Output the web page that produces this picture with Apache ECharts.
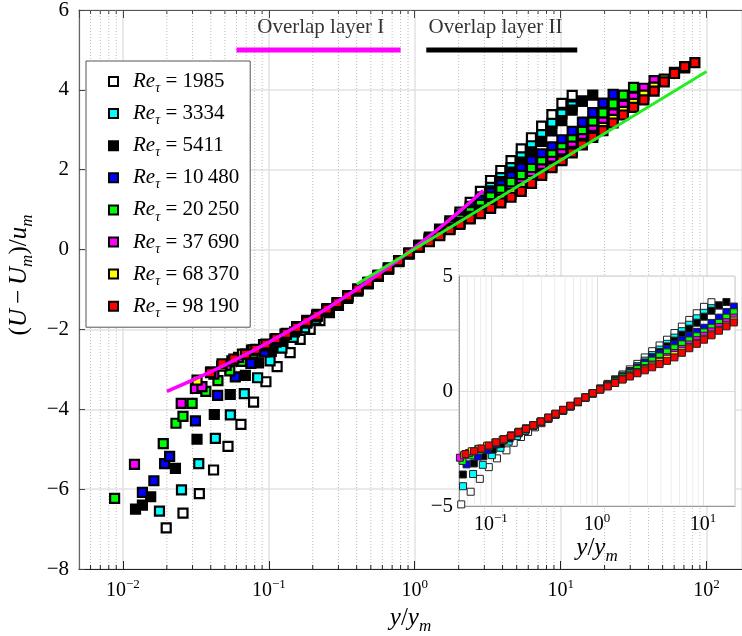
<!DOCTYPE html>
<html>
<head>
<meta charset="utf-8">
<title>Mean velocity defect</title>
<script src="https://cdn.jsdelivr.net/npm/echarts@6/dist/echarts.min.js"></script>
<style>html,body{margin:0;padding:0;background:#fff;}</style>
</head>
<body>
<div id="main" style="width:742px;height:636px;"></div>
<script type="text/javascript">
var FONT = 'Liberation Serif';

// legend labels (Re_tau) and marker colours
var names = ['1985', '3334', '5411', '10\u2009480', '20\u2009250', '37\u2009690', '68\u2009370', '98\u2009190'];
var colors = ['#ffffff', '#00ffff', '#000000', '#0000ff', '#00ff00', '#ff00ff', '#ffff00', '#ff0000'];

// [y/y_m, (U-U_m)/u_m]
var re1985 = [[0.0198,-6.97],[0.0258,-6.60],[0.0334,-6.11],[0.0418,-5.52],[0.0525,-4.93],[0.0644,-4.38],[0.0786,-3.82],[0.0955,-3.31],[0.114,-2.93],[0.140,-2.58],[0.164,-2.25],[0.192,-2.00],[0.224,-1.78],[0.260,-1.58],[0.300,-1.40],[0.347,-1.22],[0.407,-1.04],[0.479,-0.86],[0.562,-0.67],[0.661,-0.48],[0.776,-0.29],[0.912,-0.09],[1.07,0.11],[1.26,0.31],[1.48,0.51],[1.74,0.72],[2.04,0.94],[2.40,1.18],[2.82,1.46],[3.31,1.73],[3.89,1.98],[4.57,2.23],[5.37,2.52],[6.31,2.80],[7.41,3.09],[8.71,3.38],[10.2,3.66],[12.0,3.86]];
var re3334 = [[0.0178,-6.55],[0.0252,-6.02],[0.0331,-5.36],[0.0430,-4.73],[0.0545,-4.14],[0.0679,-3.61],[0.0838,-3.21],[0.102,-2.79],[0.123,-2.47],[0.147,-2.20],[0.176,-1.96],[0.210,-1.74],[0.251,-1.53],[0.295,-1.36],[0.347,-1.19],[0.407,-1.02],[0.479,-0.85],[0.562,-0.67],[0.661,-0.49],[0.776,-0.30],[0.912,-0.10],[1.07,0.10],[1.26,0.29],[1.48,0.48],[1.74,0.67],[2.04,0.87],[2.40,1.08],[2.82,1.32],[3.31,1.56],[3.89,1.80],[4.57,2.05],[5.37,2.32],[6.31,2.60],[7.41,2.88],[8.71,3.16],[10.2,3.40],[12.0,3.60],[14.1,3.72]];
var re5411 = [[0.0122,-6.50],[0.0136,-6.40],[0.0155,-6.19],[0.0229,-5.48],[0.0322,-4.75],[0.0423,-4.13],[0.0544,-3.63],[0.0690,-3.15],[0.0850,-2.84],[0.104,-2.55],[0.125,-2.30],[0.150,-2.06],[0.182,-1.84],[0.214,-1.66],[0.251,-1.50],[0.295,-1.34],[0.347,-1.18],[0.407,-1.01],[0.479,-0.84],[0.562,-0.66],[0.661,-0.48],[0.776,-0.29],[0.912,-0.10],[1.07,0.09],[1.26,0.27],[1.48,0.45],[1.74,0.63],[2.04,0.82],[2.40,1.02],[2.82,1.24],[3.31,1.47],[3.89,1.70],[4.57,1.94],[5.37,2.19],[6.31,2.45],[7.41,2.71],[8.71,2.97],[10.2,3.23],[12.0,3.49],[14.1,3.72],[16.6,3.87]];
var re10480 = [[0.0136,-6.08],[0.0163,-5.79],[0.0193,-5.36],[0.0209,-5.18],[0.0314,-4.29],[0.0446,-3.65],[0.0589,-3.19],[0.0753,-2.85],[0.0930,-2.56],[0.112,-2.32],[0.132,-2.11],[0.155,-1.93],[0.182,-1.77],[0.214,-1.62],[0.251,-1.48],[0.295,-1.33],[0.347,-1.17],[0.407,-1.00],[0.479,-0.84],[0.562,-0.66],[0.661,-0.48],[0.776,-0.29],[0.912,-0.10],[1.07,0.08],[1.26,0.26],[1.48,0.44],[1.74,0.62],[2.04,0.81],[2.40,1.01],[2.82,1.21],[3.31,1.42],[3.89,1.62],[4.57,1.83],[5.37,2.03],[6.31,2.22],[7.41,2.40],[8.71,2.57],[10.2,2.75],[12.0,2.96],[14.1,3.19],[16.6,3.43],[19.5,3.67],[22.9,3.89]];
var re20250 = [[0.00877,-6.23],[0.0189,-4.86],[0.0231,-4.35],[0.0258,-4.18],[0.0298,-3.85],[0.0370,-3.55],[0.0448,-3.28],[0.0540,-3.04],[0.0650,-2.80],[0.0780,-2.59],[0.0955,-2.41],[0.112,-2.26],[0.132,-2.12],[0.155,-1.97],[0.182,-1.82],[0.214,-1.67],[0.251,-1.51],[0.295,-1.35],[0.347,-1.18],[0.407,-1.01],[0.479,-0.84],[0.562,-0.66],[0.661,-0.48],[0.776,-0.29],[0.912,-0.10],[1.07,0.08],[1.26,0.25],[1.48,0.42],[1.74,0.59],[2.04,0.76],[2.40,0.95],[2.82,1.13],[3.31,1.32],[3.89,1.50],[4.57,1.68],[5.37,1.86],[6.31,2.03],[7.41,2.20],[8.71,2.38],[10.2,2.55],[12.0,2.75],[14.1,2.96],[16.6,3.19],[19.5,3.42],[22.9,3.65],[26.9,3.87],[31.6,4.06]];
var re37690 = [[0.0120,-5.38],[0.0251,-3.85],[0.0314,-3.48],[0.0348,-3.43],[0.0420,-3.12],[0.0510,-2.90],[0.0620,-2.70],[0.0760,-2.52],[0.0930,-2.39],[0.112,-2.25],[0.132,-2.11],[0.155,-1.96],[0.182,-1.81],[0.214,-1.66],[0.251,-1.50],[0.295,-1.34],[0.347,-1.17],[0.407,-1.00],[0.479,-0.83],[0.562,-0.65],[0.661,-0.47],[0.776,-0.29],[0.912,-0.10],[1.07,0.07],[1.26,0.22],[1.48,0.37],[1.74,0.53],[2.04,0.68],[2.40,0.83],[2.82,0.99],[3.31,1.15],[3.89,1.31],[4.57,1.47],[5.37,1.65],[6.31,1.83],[7.41,2.02],[8.71,2.21],[10.2,2.40],[12.0,2.59],[14.1,2.78],[16.6,2.99],[19.5,3.19],[22.9,3.40],[26.9,3.61],[31.6,3.82],[37.2,4.04],[43.7,4.23]];
var re68370 = [[0.0322,-3.27],[0.0400,-3.06],[0.0475,-2.92],[0.0558,-2.79],[0.0660,-2.62],[0.0780,-2.51],[0.0920,-2.38],[0.110,-2.24],[0.129,-2.12],[0.155,-1.95],[0.182,-1.80],[0.214,-1.65],[0.251,-1.49],[0.295,-1.33],[0.347,-1.16],[0.407,-0.99],[0.479,-0.82],[0.562,-0.65],[0.661,-0.47],[0.776,-0.28],[0.912,-0.10],[1.07,0.07],[1.26,0.21],[1.48,0.36],[1.74,0.51],[2.04,0.66],[2.40,0.80],[2.82,0.95],[3.31,1.10],[3.89,1.25],[4.57,1.40],[5.37,1.56],[6.31,1.73],[7.41,1.91],[8.71,2.09],[10.2,2.27],[12.0,2.46],[14.1,2.66],[16.6,2.86],[19.5,3.06],[22.9,3.26],[26.9,3.46],[31.6,3.66],[37.2,3.87],[43.7,4.07],[51.3,4.27],[60.3,4.44],[70.8,4.55]];
var re98190 = [[0.0398,-3.08],[0.0478,-2.86],[0.0575,-2.74],[0.0692,-2.62],[0.0813,-2.50],[0.0955,-2.37],[0.112,-2.23],[0.132,-2.10],[0.155,-1.95],[0.182,-1.80],[0.214,-1.65],[0.251,-1.49],[0.295,-1.33],[0.347,-1.16],[0.407,-0.99],[0.479,-0.82],[0.562,-0.64],[0.661,-0.46],[0.776,-0.28],[0.912,-0.09],[1.07,0.06],[1.26,0.20],[1.48,0.35],[1.74,0.50],[2.04,0.63],[2.40,0.77],[2.82,0.90],[3.31,1.03],[3.89,1.17],[4.57,1.31],[5.37,1.46],[6.31,1.66],[7.41,1.86],[8.71,2.05],[10.2,2.23],[12.0,2.42],[14.1,2.62],[16.6,2.81],[19.5,2.98],[22.9,3.17],[26.9,3.37],[31.6,3.56],[37.2,3.75],[43.7,3.97],[51.3,4.20],[60.3,4.41],[70.8,4.58],[83.2,4.68]];
var sets = [re1985, re3334, re5411, re10480, re20250, re37690, re68370, re98190];

// fitted curves and overlap-range bars
var fitLayerI = [[0.02,-3.55],[0.03,-3.27],[0.05,-2.89],[0.1,-2.32],[0.2,-1.69],[0.3,-1.29],[0.5,-0.75],[1,0.05],[2,0.94],[2.95,1.48]];
var fitLayerII = [[0.4,-0.87],[100,4.46]];
var barLayerI = [[0.06,5],[0.8,5]];
var barLayerII = [[1.2,5],[13,5]];
var labelLayerI = [[0.227,5.55]];
var labelLayerII = [[3.58,5.55]];

// minor log ticks 2..9 x decade
var decades = [0.001, 0.01, 0.1, 1, 10, 100];
var mults = [2, 3, 4, 5, 6, 7, 8, 9];

var myChart = echarts.init(document.getElementById('main'));

function minorTicks(lo, hi) {
    var out = [];
    decades.forEach(function (d) {
        mults.forEach(function (m) {
            var v = d * m;
            if (v > lo * 1.0001 && v < hi * 0.9999) out.push([v, 0]);
        });
    });
    return out;
}

function powLabel(v) {
    var l = Math.log10(v), e = Math.round(l);
    if (Math.abs(l - e) > 1e-6) return '';
    return '{b|10}{s|' + (e < 0 ? '\u2212' + (-e) : '' + e) + '}';
}
function numLabel(v) {
    return v < 0 ? '\u2212' + (-v) : '' + v;
}
var tickRich = {
    b: {fontFamily: FONT, fontSize: 20, color: '#000', lineHeight: 26},
    s: {fontFamily: FONT, fontSize: 13, color: '#000', lineHeight: 13, verticalAlign: 'top'}
};
var nameRich = {
    n: {fontFamily: FONT, fontSize: 25, color: '#000', lineHeight: 34},
    i: {fontFamily: FONT, fontSize: 25, fontStyle: 'italic', color: '#000', lineHeight: 34},
    s: {fontFamily: FONT, fontSize: 17, fontStyle: 'italic', color: '#000', lineHeight: 17, verticalAlign: 'bottom'}
};

function minorRender(yLo, yHi, dotted, ticks) {
    return function (params, api) {
        var x = api.value(0);
        var a = api.coord([x, yHi]), b = api.coord([x, yLo]);
        var kids = [{
            type: 'line',
            shape: {x1: a[0], y1: a[1], x2: b[0], y2: b[1]},
            style: dotted ? {stroke: '#bdbdbd', lineWidth: 1, lineDash: [1, 2]} : {stroke: '#ececec', lineWidth: 1}
        }];
        if (ticks) {
            kids.push({type: 'line', shape: {x1: b[0], y1: b[1], x2: b[0], y2: b[1] - 4}, style: {stroke: '#222', lineWidth: 1}});
            kids.push({type: 'line', shape: {x1: a[0], y1: a[1], x2: a[0], y2: a[1] + 4}, style: {stroke: '#444', lineWidth: 1}});
        }
        return {type: 'group', children: kids};
    };
}

var option = {
    animation: false,
    grid: [
        {left: 79, top: 10, right: 0, bottom: 67, outerBoundsMode: 'none', containLabel: false},
        {left: 459, top: 276, width: 276, height: 230, outerBoundsMode: 'none', containLabel: false,
         show: true, backgroundColor: '#fff', borderColor: '#c8c8c8', borderWidth: 1, z: 3}
    ],
    xAxis: [{
        type: 'log', gridIndex: 0, min: 0.005, max: 175,
        axisLine: {onZero: false, lineStyle: {color: '#222', width: 1.2}},
        axisTick: {inside: true, length: 8, lineStyle: {color: '#222'}},
        axisLabel: {formatter: powLabel, rich: tickRich, margin: 9, showMinLabel: false, showMaxLabel: false},
        splitLine: {show: true, lineStyle: {color: '#e2e2e2', width: 1.5}},
        name: '{i|y}{n|/}{i|y}{s|m}', nameLocation: 'middle', nameGap: 31,
        nameTextStyle: {rich: nameRich}
    }, {
        type: 'log', gridIndex: 0, min: 0.005, max: 175, position: 'top',
        axisLine: {onZero: false, lineStyle: {color: '#555', width: 1}},
        axisTick: {inside: true, length: 8, lineStyle: {color: '#444'}},
        axisLabel: {show: false}, splitLine: {show: false}
    }, {
        type: 'log', gridIndex: 1, min: 0.05, max: 20, z: 4,
        axisLine: {onZero: false, lineStyle: {color: '#999', width: 1}},
        axisTick: {show: false},
        axisLabel: {formatter: powLabel, rich: tickRich, margin: 6, showMinLabel: false, showMaxLabel: false},
        splitLine: {show: true, lineStyle: {color: '#dedede', width: 1}},
        name: '{i|y}{n|/}{i|y}{s|m}', nameLocation: 'middle', nameGap: 25,
        nameTextStyle: {rich: nameRich}
    }],
    yAxis: [{
        type: 'value', gridIndex: 0, min: -8, max: 6, interval: 2,
        axisLine: {show: true, onZero: false, lineStyle: {color: '#666', width: 1.2}},
        axisTick: {show: true, inside: true, length: 6, lineStyle: {color: '#444'}},
        axisLabel: {formatter: numLabel, fontFamily: FONT, fontSize: 21, color: '#000', margin: 10},
        splitLine: {show: true, lineStyle: {color: '#e2e2e2', width: 1.5}}
    }, {
        type: 'value', gridIndex: 1, min: -5, max: 5, interval: 5, z: 4,
        axisLine: {show: true, onZero: false, lineStyle: {color: '#999', width: 1}},
        axisTick: {show: false},
        axisLabel: {formatter: numLabel, fontFamily: FONT, fontSize: 21, color: '#000', margin: 6},
        splitLine: {show: true, lineStyle: {color: '#dedede', width: 1}}
    }],
    legend: {
        data: names, orient: 'vertical', left: 86, top: 61,
        padding: [10, 11, 7, 22], itemGap: 7.6, itemWidth: 9, itemHeight: 9,
        backgroundColor: '#fff', borderColor: '#555', borderWidth: 1,
        selectedMode: false,
        itemStyle: {borderColor: '#000', borderWidth: 2, opacity: 1},
        formatter: function (n) { return '{i|Re}{s|\u03c4}{n| = ' + n + '}'; },
        textStyle: {
            padding: [0, 0, 0, 10],
            rich: {
                n: {fontFamily: FONT, fontSize: 21, color: '#000', lineHeight: 28},
                i: {fontFamily: FONT, fontSize: 21, fontStyle: 'italic', color: '#000', lineHeight: 28},
                s: {fontFamily: FONT, fontSize: 14, fontStyle: 'italic', color: '#000', lineHeight: 14, verticalAlign: 'bottom'}
            }
        }
    },
    graphic: [{
        type: 'text', x: 19, y: 275, rotation: Math.PI / 2,
        style: {
            text: '{n|(}{i|U}{n|\u2009\u2212\u2009}{i|U}{s|m}{n|)/}{i|u}{s|m}',
            rich: nameRich, align: 'center', verticalAlign: 'middle'
        }
    }],
    series: []
};

// minor grid lines and ticks
option.series.push({
    type: 'custom', xAxisIndex: 0, yAxisIndex: 0, z: 1, silent: true,
    data: minorTicks(0.005, 175), renderItem: minorRender(-8, 6, true, true)
});
option.series.push({
    type: 'custom', xAxisIndex: 2, yAxisIndex: 1, z: 4, silent: true,
    data: minorTicks(0.05, 20), renderItem: minorRender(-5, 5, false, false)
});

// main panel
sets.forEach(function (d, i) {
    option.series.push({
        type: 'scatter', name: names[i], data: d, xAxisIndex: 0, yAxisIndex: 0,
        symbol: 'rect', symbolSize: 9, z: 2, silent: true,
        itemStyle: {color: colors[i], borderColor: '#000', borderWidth: 2.2, opacity: 1}
    });
});

option.series.push({
    type: 'line', data: fitLayerI, xAxisIndex: 0, yAxisIndex: 0, smooth: true, showSymbol: false, z: 3, silent: true,
    lineStyle: {color: '#ff00ff', width: 3.5}
});
option.series.push({
    type: 'line', data: fitLayerII, xAxisIndex: 0, yAxisIndex: 0, showSymbol: false, z: 3, silent: true,
    lineStyle: {color: '#22ee22', width: 3}
});
option.series.push({
    type: 'line', data: barLayerI, xAxisIndex: 0, yAxisIndex: 0, showSymbol: false, z: 3, silent: true,
    lineStyle: {color: '#ff00ff', width: 5, cap: 'butt'}
});
option.series.push({
    type: 'line', data: barLayerII, xAxisIndex: 0, yAxisIndex: 0, showSymbol: false, z: 3, silent: true,
    lineStyle: {color: '#000', width: 5, cap: 'butt'}
});
[[labelLayerI, 'Overlap layer I'], [labelLayerII, 'Overlap layer II']].forEach(function (p) {
    option.series.push({
        type: 'scatter', data: p[0], xAxisIndex: 0, yAxisIndex: 0, symbolSize: 1, z: 3, silent: true,
        itemStyle: {color: 'rgba(0,0,0,0)'},
        label: {show: true, position: 'inside', formatter: p[1], fontFamily: FONT, fontSize: 21, color: '#000'}
    });
});

// inset panel, same data
sets.forEach(function (d, i) {
    option.series.push({
        type: 'scatter', name: names[i], data: d, xAxisIndex: 2, yAxisIndex: 1,
        symbol: 'rect', symbolSize: 7, z: 5, clip: true, silent: true,
        itemStyle: {color: colors[i], borderColor: '#222', borderWidth: 1, opacity: 1}
    });
});

myChart.setOption(option);
</script>
</body>
</html>
